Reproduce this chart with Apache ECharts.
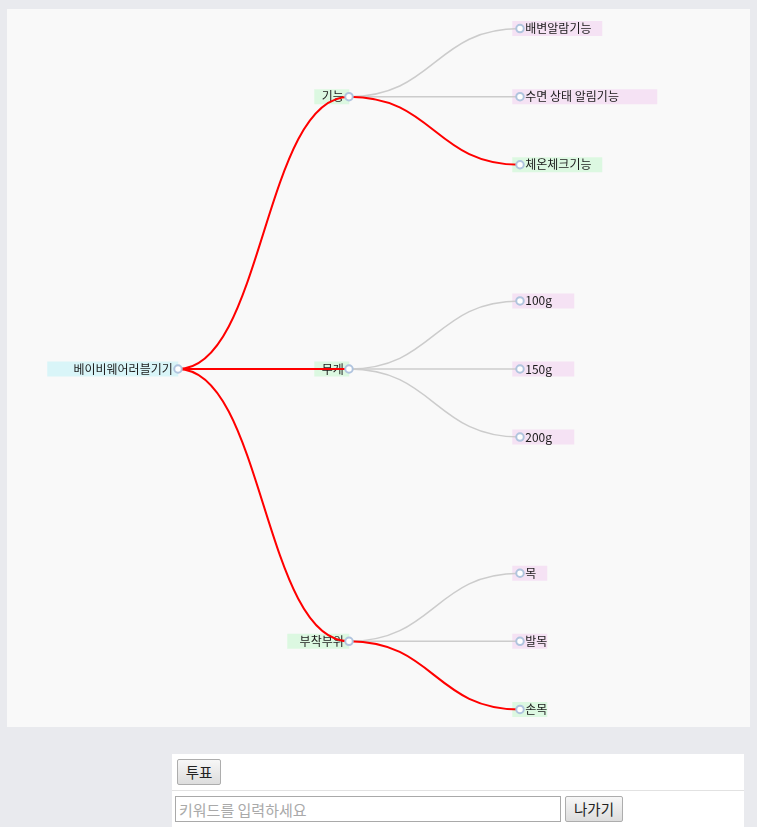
<!DOCTYPE html>
<html>
<head>
<meta charset="utf-8">
<script src="https://cdn.jsdelivr.net/npm/echarts@6/dist/echarts.min.js"></script>
<style>
html,body{margin:0;padding:0;background:#e9eaee;width:757px;height:827px;overflow:hidden;font-family:"Noto Sans CJK KR","Noto Sans",sans-serif;}
#chart{position:absolute;left:7px;top:9px;width:743px;height:718px;background:#f9f9f9;}
#panel{position:absolute;left:172px;top:754px;width:572px;height:80px;background:#fff;}
#row1{position:absolute;left:0;top:0;width:572px;height:36px;border-bottom:1px solid #e2e2e2;}
.btn{position:absolute;height:26px;box-sizing:border-box;border:1px solid #adadad;border-radius:2px;background:linear-gradient(#f7f7f7,#dddddd);font-family:"Noto Sans CJK KR",sans-serif;font-size:14.5px;color:#222;padding:0;line-height:22px;text-align:center;}
#vote{left:5px;top:5px;width:44px;}
#kw{position:absolute;left:3px;top:42px;width:386px;height:26px;box-sizing:border-box;border:1px solid #a9a9a9;padding:0 3px;font-family:"Noto Sans CJK KR",sans-serif;font-size:15px;color:#222;outline:none;}
#kw::placeholder{color:#a9a9a9;}
#exit{left:393px;top:42px;width:58px;}
</style>
</head>
<body>
<div id="chart"></div>
<div id="panel">
  <div id="row1"><button class="btn" id="vote">투표</button></div>
  <input id="kw" type="text" placeholder="키워드를 입력하세요">
  <button class="btn" id="exit">나가기</button>
</div>
<script>
// ---- data ----
const rootName = '베이비웨어러블기기';
const groupNames = ['기능', '무게', '부착부위'];
const leafNames = [
  ['배변알람기능', '수면 상태 알림기능', '체온체크기능'],
  ['100g', '150g', '200g'],
  ['목', '발목', '손목']
];
const selectedGroups = ['기능', '무게', '부착부위'];
const selectedLeaves = ['체온체크기능', '손목'];

// ---- styling helpers ----
const FONT = '"Noto Sans CJK KR", "Noto Sans", sans-serif';
const COLOR_ROOT = '#d9f5f8';
const COLOR_SEL = '#dcf8e1';
const COLOR_LEAF = '#f5e2f4';

function boxWidth(name) {
  return Math.max(35, Math.round(13.8 * name.length + 7));
}
function leftLabel(name, bg) {
  const w = boxWidth(name);
  return {
    show: true, position: 'left', distance: -4, align: 'right', verticalAlign: 'middle',
    backgroundColor: bg, padding: [1, 5.5, 1, 0], width: w - 5.5,
    fontSize: 12, lineHeight: 13, fontFamily: FONT, color: '#1a1a1a', overflow: 'none'
  };
}
function rightLabel(name, bg) {
  const w = boxWidth(name);
  return {
    show: true, position: 'right', distance: -11.5, align: 'left', verticalAlign: 'middle',
    backgroundColor: bg, padding: [1, 0, 1, 13], width: w - 13,
    fontSize: 12, lineHeight: 13, fontFamily: FONT, color: '#1a1a1a', overflow: 'none'
  };
}
const RED = { color: '#ff0000', width: 2 };
const GRAY = { color: '#cccccc', width: 1.5 };

function buildTree(withLabels) {
  return [{
    name: rootName,
    label: withLabels ? leftLabel(rootName, COLOR_ROOT) : { show: false },
    children: groupNames.map((g, gi) => {
      const gSel = selectedGroups.includes(g);
      return {
        name: g,
        label: withLabels ? leftLabel(g, gSel ? COLOR_SEL : COLOR_LEAF) : { show: false },
        lineStyle: withLabels ? undefined : (gSel ? RED : GRAY),
        children: leafNames[gi].map(l => {
          const lSel = selectedLeaves.includes(l);
          return {
            name: l,
            label: withLabels ? rightLabel(l, lSel ? COLOR_SEL : COLOR_LEAF) : { show: false },
            lineStyle: withLabels ? undefined : (lSel ? RED : GRAY)
          };
        })
      };
    })
  }];
}

const common = {
  type: 'tree',
  orient: 'LR',
  left: 171, width: 342,
  top: -48.5, bottom: -50.5,
  symbolSize: 7.5,
  initialTreeDepth: -1,
  expandAndCollapse: false,
  roam: false,
  edgeShape: 'curve',
  animation: false,
  emphasis: { disabled: true }
};

const chart = echarts.init(document.getElementById('chart'), null, { renderer: 'canvas' });
chart.setOption({
  backgroundColor: '#f9f9f9',
  animation: false,
  series: [
    Object.assign({}, common, {
      z: 1,
      symbol: 'circle',
      itemStyle: { color: 'rgba(0,0,0,0)', borderWidth: 0 },
      lineStyle: { color: 'rgba(0,0,0,0)', width: 0 },
      data: buildTree(true)
    }),
    Object.assign({}, common, {
      z: 2,
      symbol: 'emptyCircle',
      itemStyle: { color: 'lightsteelblue', borderColor: 'lightsteelblue', borderWidth: 1.5 },
      lineStyle: GRAY,
      label: { show: false },
      data: buildTree(false)
    })
  ]
});
</script>
</body>
</html>
